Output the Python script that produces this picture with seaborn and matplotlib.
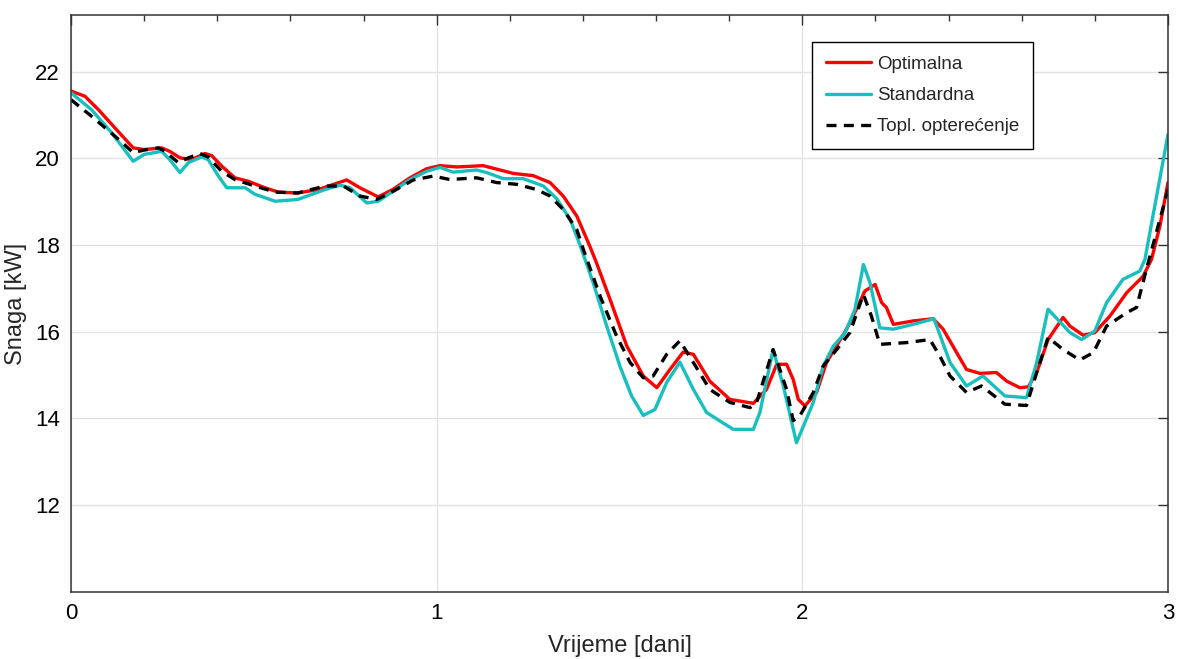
import numpy as np
import pandas as pd
import matplotlib
matplotlib.use("Agg")
import matplotlib.pyplot as plt
import seaborn as sns
from matplotlib.ticker import MultipleLocator

# Optimalna (red)
t_opt = [0.0, 0.038, 0.075, 0.12, 0.17, 0.2, 0.248, 0.27, 0.298, 0.33, 0.366, 0.385,
         0.412, 0.448, 0.485, 0.53, 0.567, 0.62, 0.676, 0.754, 0.79, 0.84, 0.88,
         0.927, 0.973, 1.009, 1.055, 1.127, 1.21, 1.264, 1.31, 1.346, 1.383, 1.419,
         1.437, 1.474, 1.52, 1.565, 1.602, 1.638, 1.674, 1.702, 1.747, 1.802, 1.866,
         1.902, 1.93, 1.957, 1.975, 1.989, 2.007, 2.039, 2.066, 2.121, 2.148, 2.171,
         2.199, 2.217, 2.23, 2.249, 2.303, 2.358, 2.385, 2.422, 2.449, 2.486, 2.531,
         2.559, 2.595, 2.618, 2.641, 2.672, 2.713, 2.732, 2.768, 2.8, 2.841, 2.887,
         2.932, 2.955, 2.978, 3.0]
p_opt = [21.55, 21.43, 21.12, 20.70, 20.24, 20.20, 20.24, 20.16, 20.01, 19.97, 20.11, 20.06,
         19.82, 19.55, 19.47, 19.32, 19.22, 19.20, 19.28, 19.50, 19.32, 19.11, 19.28,
         19.55, 19.76, 19.83, 19.80, 19.83, 19.65, 19.60, 19.44, 19.13, 18.67, 17.97,
         17.59, 16.75, 15.67, 14.98, 14.71, 15.13, 15.53, 15.48, 14.86, 14.44, 14.35,
         14.67, 15.25, 15.25, 14.90, 14.44, 14.29, 14.60, 15.29, 16.06, 16.52, 16.94,
         17.09, 16.67, 16.56, 16.17, 16.25, 16.30, 16.06, 15.52, 15.13, 15.04, 15.06,
         14.86, 14.71, 14.73, 15.06, 15.82, 16.33, 16.13, 15.92, 15.98, 16.36, 16.90,
         17.28, 17.67, 18.44, 19.44]

# Standardna (cyan)
t_std = [0.0, 0.056, 0.111, 0.17, 0.2, 0.248, 0.27, 0.298, 0.321, 0.357, 0.375, 0.403,
         0.426, 0.476, 0.503, 0.558, 0.62, 0.695, 0.736, 0.763, 0.809, 0.84, 0.881,
         0.927, 0.973, 1.009, 1.045, 1.109, 1.137, 1.182, 1.237, 1.292, 1.328, 1.365,
         1.392, 1.428, 1.465, 1.501, 1.533, 1.565, 1.597, 1.629, 1.665, 1.702, 1.738,
         1.775, 1.811, 1.866, 1.884, 1.92, 1.948, 1.984, 2.03, 2.057, 2.085, 2.117,
         2.144, 2.167, 2.185, 2.212, 2.249, 2.303, 2.36, 2.404, 2.449, 2.494, 2.554,
         2.613, 2.641, 2.672, 2.732, 2.764, 2.8, 2.832, 2.877, 2.923, 2.937, 3.0]
p_std = [21.51, 21.12, 20.59, 19.93, 20.09, 20.16, 19.97, 19.67, 19.90, 20.03, 19.97, 19.59,
         19.32, 19.32, 19.17, 19.01, 19.05, 19.28, 19.38, 19.32, 18.97, 19.01, 19.24,
         19.51, 19.70, 19.79, 19.68, 19.73, 19.67, 19.53, 19.53, 19.36, 19.07, 18.59,
         18.00, 17.13, 16.13, 15.21, 14.52, 14.07, 14.21, 14.83, 15.30, 14.67, 14.14,
         13.94, 13.75, 13.75, 14.14, 15.59, 14.75, 13.44, 14.37, 15.21, 15.67, 15.98,
         16.52, 17.55, 17.13, 16.09, 16.06, 16.17, 16.30, 15.29, 14.75, 14.98, 14.52,
         14.48, 15.29, 16.52, 15.98, 15.82, 16.02, 16.67, 17.21, 17.40, 17.67, 20.55]

# Topl. opterecenje (black dashed)
t_load = [0.0, 0.056, 0.12, 0.17, 0.2, 0.239, 0.257, 0.293, 0.321, 0.353, 0.375, 0.412,
          0.448, 0.503, 0.558, 0.62, 0.695, 0.745, 0.79, 0.836, 0.881, 0.936, 0.991,
          1.036, 1.109, 1.164, 1.219, 1.273, 1.31, 1.346, 1.383, 1.401, 1.447, 1.492,
          1.529, 1.565, 1.592, 1.629, 1.665, 1.702, 1.747, 1.802, 1.857, 1.875, 1.92,
          1.957, 1.975, 1.993, 2.03, 2.057, 2.094, 2.13, 2.167, 2.189, 2.212, 2.285,
          2.349, 2.376, 2.404, 2.449, 2.49, 2.554, 2.613, 2.641, 2.672, 2.713, 2.759,
          2.796, 2.832, 2.887, 2.914, 2.941, 2.968, 3.0]
p_load = [21.35, 20.97, 20.51, 20.13, 20.19, 20.24, 20.16, 19.90, 20.01, 20.11, 20.03, 19.70,
          19.51, 19.36, 19.22, 19.20, 19.36, 19.36, 19.13, 19.05, 19.24, 19.50, 19.59,
          19.51, 19.55, 19.44, 19.40, 19.28, 19.13, 18.82, 18.36, 17.90, 16.82, 15.90,
          15.29, 14.94, 14.98, 15.48, 15.79, 15.29, 14.67, 14.37, 14.25, 14.37, 15.59,
          14.67, 13.95, 14.06, 14.60, 15.21, 15.59, 15.98, 16.86, 16.36, 15.71, 15.75,
          15.82, 15.44, 14.98, 14.60, 14.75, 14.33, 14.30, 15.06, 15.87, 15.59, 15.35,
          15.52, 16.13, 16.44, 16.56, 17.44, 18.28, 19.28]

df_opt = pd.DataFrame({"t": t_opt, "p": p_opt})
df_std = pd.DataFrame({"t": t_std, "p": p_std})
df_load = pd.DataFrame({"t": t_load, "p": p_load})

sns.set_theme(style="white")
plt.rcParams["font.family"] = ["Liberation Sans", "DejaVu Sans"]

fig = plt.figure(figsize=(11.78, 6.59), dpi=100)
ax = fig.add_axes([0.0603, 0.1017, 0.9312, 0.8753])

sns.lineplot(data=df_opt, x="t", y="p", ax=ax, color="#FF0000", lw=2.4, label="Optimalna")
sns.lineplot(data=df_std, x="t", y="p", ax=ax, color="#17BFBF", lw=2.4, label="Standardna")
sns.lineplot(data=df_load, x="t", y="p", ax=ax, color="black", lw=2.4,
             linestyle=(0, (3, 2.2)), label="Topl. opterećenje")

ax.set_xlim(0, 3)
ax.set_ylim(10.0, 23.3)
ax.set_xticks([0, 1, 2, 3])
ax.xaxis.set_minor_locator(MultipleLocator(0.2))
ax.set_yticks([12, 14, 16, 18, 20, 22])
ax.grid(True, which="major", color="#E3E3E3", lw=1)
ax.tick_params(which="both", direction="in", top=True, right=True, colors="#333333",
               labelcolor="black", labelsize=16, pad=8)
ax.tick_params(which="major", length=7, width=1)
ax.tick_params(which="minor", length=4, width=1)
for s in ax.spines.values():
    s.set_color("#333333")
    s.set_linewidth(1.1)

ax.set_xlabel("Vrijeme [dani]", fontsize=17, labelpad=8)
ax.set_ylabel("Snaga [kW]", fontsize=17, labelpad=6)

leg = ax.legend(loc="upper right", bbox_to_anchor=(0.877, 0.954), borderaxespad=0,
                fontsize=13.5, frameon=True, fancybox=False, edgecolor="black",
                framealpha=1, handlelength=2.4, labelspacing=0.75, borderpad=0.75,
                handletextpad=0.3)
leg.get_frame().set_linewidth(1)

fig.savefig("out.png", dpi=100)
